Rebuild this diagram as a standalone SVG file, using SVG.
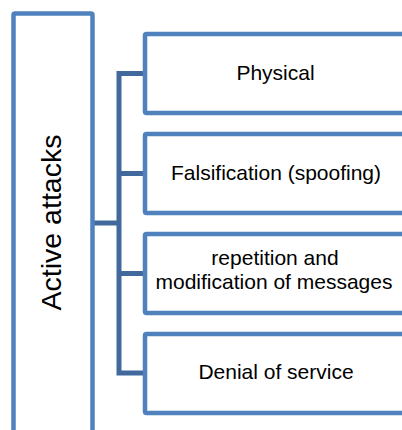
<svg xmlns="http://www.w3.org/2000/svg" width="402" height="430" viewBox="0 0 402 430">
  <style>
    .box { fill: #ffffff; stroke: #4F81BD; stroke-width: 4.5; }
    .conn { fill: none; stroke: #41699D; stroke-width: 5; stroke-linejoin: miter; }
    .lbl { font-family: "Liberation Sans", Arial, sans-serif; font-size: 21px; fill: #000000; text-anchor: middle; }
    .title { font-family: "Liberation Sans", Arial, sans-serif; font-size: 28.5px; fill: #000000; text-anchor: middle; }
  </style>
  <rect width="402" height="430" fill="#ffffff"/>
  <g id="connectors">
    <path class="conn" d="M145,73.5 H119 V373 H145"/>
    <path class="conn" d="M119,173.5 H145"/>
    <path class="conn" d="M119,273.5 H145"/>
    <path class="conn" d="M92.5,223 H119"/>
  </g>
  <g id="active-attacks">
    <rect class="box" x="13.5" y="13.5" width="79" height="440" rx="1.5"/>
    <text class="title" transform="translate(61,222.5) rotate(-90)">Active attacks</text>
  </g>
  <g id="physical">
    <rect class="box" x="145" y="34" width="265" height="79" rx="1.5"/>
    <text class="lbl" x="275.5" y="80">Physical</text>
  </g>
  <g id="spoofing">
    <rect class="box" x="145" y="134" width="265" height="79" rx="1.5"/>
    <text class="lbl" x="276" y="180">Falsification (spoofing)</text>
  </g>
  <g id="repetition">
    <rect class="box" x="145" y="234" width="265" height="79" rx="1.5"/>
    <text class="lbl"><tspan x="275" y="265">repetition and</tspan><tspan x="274" y="288.5">modification of messages</tspan></text>
  </g>
  <g id="denial">
    <rect class="box" x="145" y="334" width="265" height="79" rx="1.5"/>
    <text class="lbl" x="276" y="378.5">Denial of service</text>
  </g>
</svg>
